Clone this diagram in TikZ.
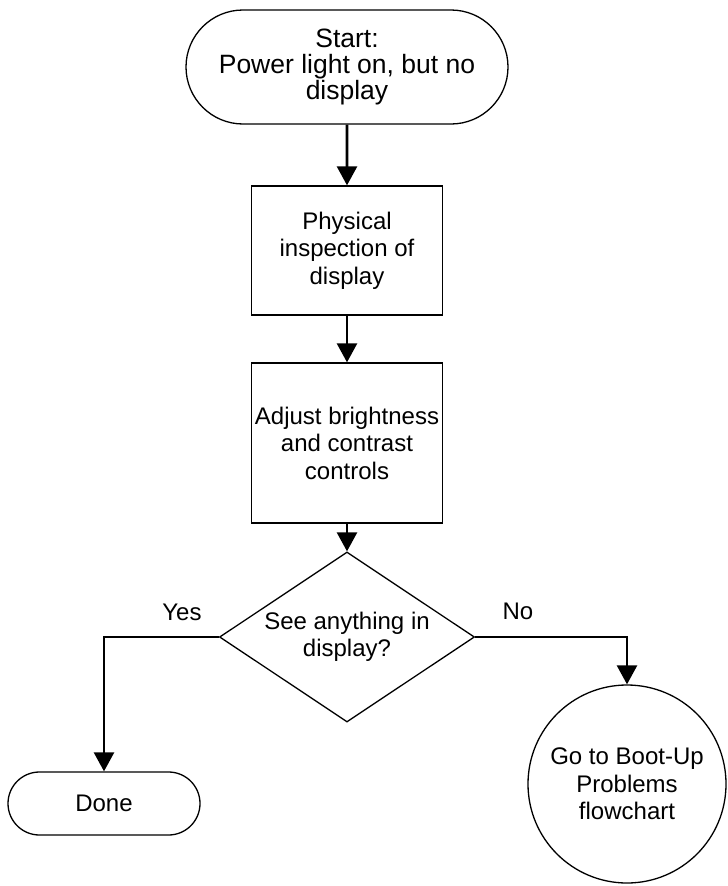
\documentclass[tikz,border=0pt]{standalone}
\usepackage{fontspec}
\setmainfont{Liberation Sans}
\usetikzlibrary{arrows.meta,shapes.geometric,shapes.misc}

\begin{document}
\begin{tikzpicture}[x=1pt, y=-1pt,
  every node/.style={font=\fontsize{24}{27.5}\selectfont, align=center},
  termnode/.style={draw, line width=1.3pt, rounded rectangle, inner sep=0pt},
  stepnode/.style={draw, line width=1.3pt, rectangle, minimum width=191pt, inner sep=0pt},
  decnode/.style={draw, line width=1.3pt, diamond, aspect=1.5, minimum width=255pt, minimum height=170pt, inner sep=0pt},
  flow/.style={-{Triangle[length=19pt, width=20pt]}, line width=2.6pt}]
\useasboundingbox (0,0) rectangle (728,886);
% Start
\node[termnode, minimum width=322pt, minimum height=114pt, font=\fontsize{26.5}{26}\selectfont] (start) at (347,67) {Start:\\Power light on, but no\\display};
% Steps
\node[stepnode, minimum height=129pt] (inspect) at (347,250.5) {Physical\\inspection of\\display};
\node[stepnode, minimum height=160pt] (adjust) at (347,443) {Adjust brightness\\and contrast\\controls};
% Decision
\node[decnode] (decide) at (347,637) {See anything in\\display?};
% Ends
\node[termnode, minimum width=192pt, minimum height=63pt] (done) at (104,803.5) {Done};
\node[draw, line width=1.3pt, circle, minimum size=198pt, inner sep=0pt] (bootup) at (627,784) {Go to Boot-Up\\Problems\\flowchart};
% Arrows
\draw[flow] (start) -- (inspect);
\draw[flow] (inspect) -- (adjust);
\draw[flow] (adjust) -- (decide);
\draw[flow] (decide.west) -| (done.north);
\draw[flow] (decide.east) -| (bootup.north);
% Labels
\node (yeslbl) at (182,612) {Yes};
\node (nolbl) at (518,611) {No};
\end{tikzpicture}
\end{document}
